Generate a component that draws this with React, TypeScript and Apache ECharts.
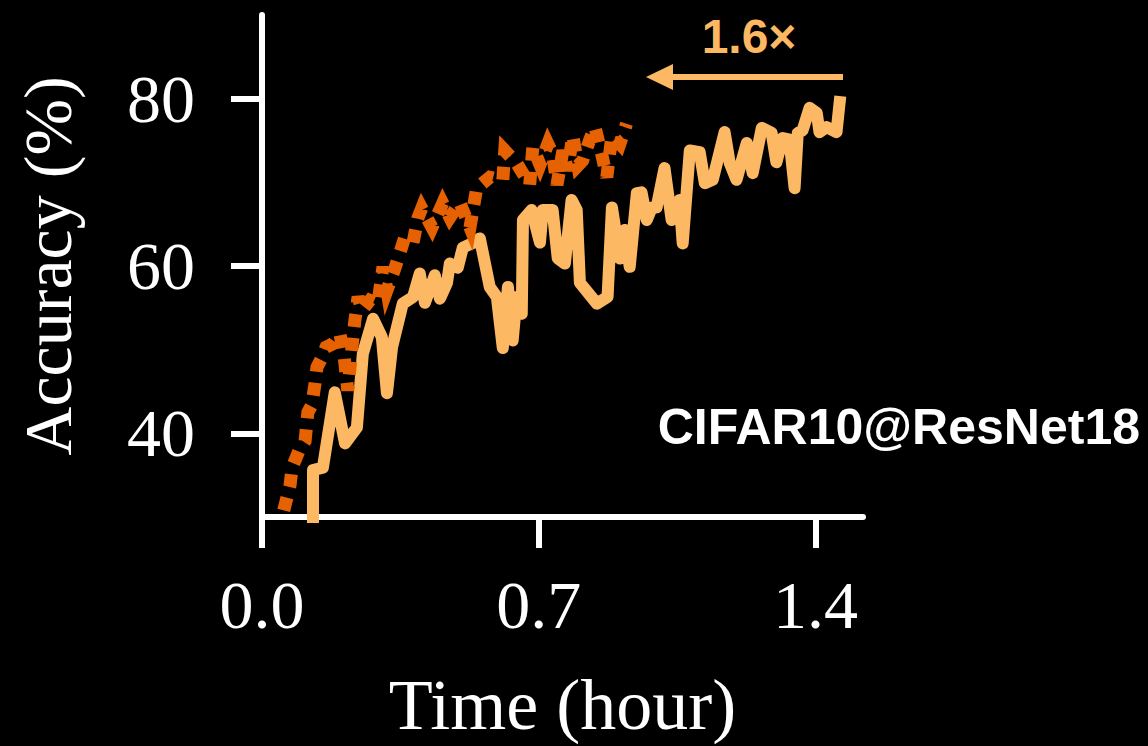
import React, { useEffect, useRef } from "react";
import * as echarts from "echarts";

// Baseline (solid, light orange)
const solidTime = [0.129, 0.129, 0.154, 0.184, 0.210, 0.240, 0.255, 0.281, 0.303, 0.316, 0.329, 0.356, 0.382, 0.399, 0.412, 0.437, 0.450, 0.468, 0.475, 0.495, 0.508, 0.531, 0.551, 0.576, 0.594, 0.609, 0.622, 0.634, 0.644, 0.657, 0.660, 0.682, 0.703, 0.710, 0.735, 0.748, 0.766, 0.783, 0.796, 0.804, 0.847, 0.874, 0.885, 0.905, 0.917, 0.930, 0.948, 0.960, 0.973, 0.986, 0.998, 1.018, 1.036, 1.056, 1.064, 1.082, 1.107, 1.120, 1.140, 1.170, 1.183, 1.200, 1.226, 1.241, 1.264, 1.289, 1.301, 1.317, 1.334, 1.347, 1.355, 1.367, 1.385, 1.403, 1.410, 1.428, 1.453, 1.461];
const solidAcc = [27, 35.6, 35.9, 44.9, 38.8, 40.7, 49.5, 53.7, 51.5, 44.8, 50.3, 55.5, 56.3, 59.1, 55.6, 58.9, 56.1, 58.0, 60.3, 59.8, 62.2, 62.7, 63.3, 57.5, 56.3, 50.2, 57.5, 51.1, 56.3, 54.3, 65.5, 66.7, 62.8, 66.7, 66.7, 60.9, 60.3, 67.9, 66.7, 58.0, 55.5, 56.3, 67.0, 60.9, 64.3, 59.9, 68.7, 68.8, 65.5, 67.0, 67.0, 71.7, 65.5, 67.9, 62.7, 73.8, 73.6, 69.9, 70.3, 76.0, 72.3, 70.3, 74.7, 71.1, 76.5, 75.9, 72.4, 75.3, 75.1, 69.3, 75.9, 76.2, 78.9, 78.3, 76.0, 76.6, 76.0, 79.6];

// Accelerated (dotted, dark orange)
const dottedTime = [0.055, 0.071, 0.076, 0.096, 0.109, 0.116, 0.126, 0.134, 0.139, 0.152, 0.162, 0.179, 0.197, 0.207, 0.217, 0.227, 0.235, 0.243, 0.253, 0.273, 0.293, 0.306, 0.316, 0.336, 0.361, 0.382, 0.394, 0.404, 0.430, 0.457, 0.475, 0.500, 0.526, 0.543, 0.576, 0.609, 0.614, 0.644, 0.677, 0.685, 0.703, 0.723, 0.735, 0.746, 0.761, 0.773, 0.786, 0.799, 0.811, 0.829, 0.842, 0.859, 0.872, 0.885, 0.905, 0.922];
const dottedAcc = [30.8, 33.8, 35.9, 38.2, 39.1, 42.5, 43.4, 45.9, 47.9, 49.1, 50.3, 50.7, 51.9, 49.5, 45.1, 50.1, 53.5, 56.3, 54.7, 55.9, 55.5, 59.9, 57.1, 59.7, 63.4, 62.8, 65.7, 66.9, 64.6, 67.5, 65.8, 67.6, 64.6, 69.3, 70.6, 70.2, 73.8, 72.3, 69.7, 74.2, 72.1, 74.6, 73.4, 69.7, 73.8, 71.4, 75.6, 72.0, 72.6, 75.1, 76.6, 73.4, 70.6, 75.6, 74.6, 77.0];

const xTicks = [0, 0.7, 1.4];
const yTicks = [40, 60, 80];
const speedupLabel = "1.6×";
const taskLabel = "CIFAR10@ResNet18";

const LIGHT = "#FDB863";
const DARK = "#E66101";
const SERIF = "'Liberation Serif', 'DejaVu Serif', serif";
const SANS = "'Liberation Sans', Arial, sans-serif";

export default function App() {
  const ref = useRef<HTMLDivElement>(null);

  useEffect(() => {
    document.body.style.margin = "0";
    document.body.style.background = "#000";
    if (!ref.current) return;
    const chart = echarts.init(ref.current, undefined, { renderer: "svg" });
    const solid = solidTime.map((t, i) => [t, solidAcc[i]]);
    const dotted = dottedTime.map((t, i) => [t, dottedAcc[i]]);
    chart.setOption({
      animation: false,
      backgroundColor: "#000",
      grid: { left: 262, right: 285, top: 15, bottom: 229, containLabel: false },
      xAxis: {
        type: "value",
        min: 0,
        max: 1.52,
        name: "Time (hour)",
        nameLocation: "middle",
        nameGap: 152,
        nameTextStyle: { color: "#fff", fontFamily: SERIF, fontSize: 72 },
        axisLine: { show: true, lineStyle: { color: "#fff", width: 6 } },
        axisTick: { show: true, length: 31, lineStyle: { color: "#fff", width: 6 }, customValues: xTicks },
        axisLabel: {
          color: "#fff", fontFamily: SERIF, fontSize: 68, margin: 54,
          customValues: xTicks,
          formatter: (v: number) => v.toFixed(1),
        },
        splitLine: { show: false },
      },
      yAxis: {
        type: "value",
        min: 30,
        max: 90,
        name: "Accuracy (%)",
        nameLocation: "middle",
        nameRotate: 90,
        nameGap: 180,
        nameTextStyle: { color: "#fff", fontFamily: SERIF, fontSize: 68 },
        axisLine: { show: true, lineStyle: { color: "#fff", width: 6 } },
        axisTick: { show: true, length: 31, lineStyle: { color: "#fff", width: 6 }, customValues: yTicks },
        axisLabel: {
          color: "#fff", fontFamily: SERIF, fontSize: 68, margin: 67,
          customValues: yTicks,
        },
        splitLine: { show: false },
      },
      series: [
        {
          type: "line",
          data: solid,
          showSymbol: false,
          symbol: "none",
          clip: true,
          lineStyle: { color: LIGHT, width: 12, join: "round", cap: "square" },
          z: 2,
        },
        {
          type: "line",
          data: dotted,
          showSymbol: false,
          symbol: "none",
          clip: true,
          lineStyle: { color: DARK, width: 13, type: [13, 11], cap: "butt", join: "miter" },
          z: 3,
        },
      ],
      graphic: [
        {
          type: "text",
          right: 8,
          top: 402,
          style: { text: taskLabel, fill: "#fff", font: `bold 50px ${SANS}` },
        },
        {
          type: "text",
          x: 749,
          y: 36,
          style: { text: speedupLabel, fill: LIGHT, font: `bold 48px ${SANS}`, align: "center", verticalAlign: "middle" },
        },
        {
          type: "line",
          shape: { x1: 843, y1: 77, x2: 668, y2: 77 },
          style: { stroke: LIGHT, lineWidth: 6 },
        },
        {
          type: "polygon",
          shape: { points: [[646, 77], [673, 64], [673, 90]] },
          style: { fill: LIGHT },
        },
      ],
    });
    return () => chart.dispose();
  }, []);

  return <div ref={ref} style={{ width: 1148, height: 746, background: "#000" }} />;
}
